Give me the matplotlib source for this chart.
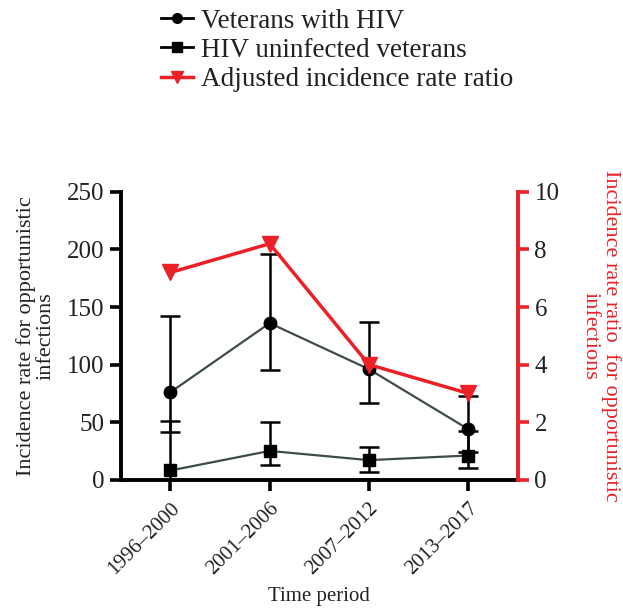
import matplotlib
matplotlib.use('Agg')
import matplotlib.pyplot as plt
from matplotlib.lines import Line2D
import numpy as np

plt.rcParams['font.family'] = ['Liberation Serif', 'DejaVu Serif']

# ── Data ──────────────────────────────────────────────────────────────────────
periods   = ['1996–2000', '2001–2006', '2007–2012', '2013–2017']
hiv       = [76, 136, 96, 44]
hiv_lo    = [41, 95, 67, 24]
hiv_hi    = [142, 196, 137, 73]
unin      = [8, 25, 17, 21]
unin_lo   = [0, 13, 7, 10]
unin_hi   = [51, 50, 28, 42]
irr       = [7.2, 8.2, 4.0, 3.0]

RED  = '#ec2027'
LINE = '#3d4b4b'

fig = plt.figure(figsize=(6.23, 6.15), dpi=100)
ax = fig.add_axes([0.194, 0.22, 0.637, 0.468])
x = np.arange(len(periods))

def draw_series(vals, lo, hi, marker, ms):
    err = [np.array(vals) - np.array(lo), np.array(hi) - np.array(vals)]
    ax.errorbar(x, vals, yerr=err, fmt='none', ecolor='black',
                elinewidth=1.8, capsize=7, capthick=1.8, zorder=2)
    ax.plot(x, vals, color=LINE, linewidth=1.6, zorder=3)
    ax.plot(x, vals, linestyle='none', marker=marker, markersize=ms,
            color='black', zorder=4)

draw_series(hiv, hiv_lo, hiv_hi, 'o', 9)
draw_series(unin, unin_lo, unin_hi, 's', 9)

ax.set_xlim(-0.5, 3.5)
ax.set_ylim(0, 250)
ax.set_yticks([0, 50, 100, 150, 200, 250])
ax.set_xticks(x)
ax.set_xticklabels(periods, rotation=45, ha='right', rotation_mode='anchor')
ax.spines['top'].set_visible(False)
ax.spines['right'].set_visible(False)
for s in ('left', 'bottom'):
    ax.spines[s].set_linewidth(2.8)
ax.tick_params(axis='both', direction='out', length=8, width=2.6,
               labelsize=18, pad=4, labelcolor='#222222')
ax.tick_params(axis='x', labelsize=15, pad=6)
ax.set_ylabel('Incidence rate for opportunistic\ninfections', fontsize=16,
              linespacing=1.05, labelpad=8, color='#222222')
ax.set_xlabel('Time period', fontsize=15, labelpad=6, color='#222222')

ax2 = ax.twinx()
ax2.plot(x, irr, color=RED, linewidth=2.5, marker='v', markersize=11,
         markerfacecolor=RED, markeredgecolor=RED, zorder=5)
ax2.set_ylim(0, 10)
ax2.set_yticks([0, 2, 4, 6, 8, 10])
for s in ('top', 'left', 'bottom'):
    ax2.spines[s].set_visible(False)
ax2.spines['right'].set_color(RED)
ax2.spines['right'].set_linewidth(2.8)
ax2.tick_params(axis='y', direction='out', length=8, width=2.6, color=RED,
                labelsize=18, labelcolor='#222222', pad=4)
ax2.set_ylabel('Incidence rate ratio  for opportunistic\ninfections',
               fontsize=16, color=RED, rotation=270, linespacing=1.05,
               labelpad=44)
ax2.set_zorder(ax.get_zorder() + 1)
ax2.patch.set_visible(False)

handles = [
    Line2D([], [], color='black', linewidth=2, marker='o', markersize=7),
    Line2D([], [], color='black', linewidth=2, marker='s', markersize=7),
    Line2D([], [], color=RED, linewidth=2.5, marker='v', markersize=9),
]
labels = ['Veterans with HIV', 'HIV uninfected veterans',
          'Adjusted incidence rate ratio']
fig.legend(handles, labels, loc='upper left', bbox_to_anchor=(0.232, 1.012),
           frameon=False, fontsize=19.5, handlelength=1.2, handletextpad=0.3,
           labelspacing=0.15, borderaxespad=0.2, labelcolor='#222222')

fig.savefig('out.png', dpi=100)
